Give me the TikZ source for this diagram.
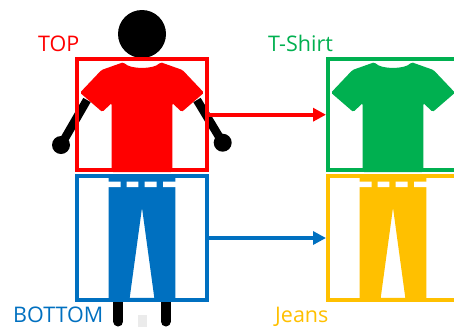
\documentclass[tikz,border=0pt]{standalone}
\usepackage{fontspec}
\setmainfont{Open Sans}
\usetikzlibrary{arrows.meta}
\definecolor{cred}{HTML}{FF0000}
\definecolor{cblue}{HTML}{0070C0}
\definecolor{cgreen}{HTML}{00B050}
\definecolor{cyellow}{HTML}{FFC000}
\tikzset{
  frame/.style={draw, line width=4pt, minimum width=130pt, inner sep=0pt, outer sep=0pt},
  topframe/.style={frame, minimum height=111.5pt},
  botframe/.style={frame, minimum height=124pt},
  limb/.style={draw=black, line width=8.5pt},
  leg/.style={draw=black, line width=10pt, line cap=round},
  link/.style={line width=4pt, -{Triangle[length=13pt,width=13pt]}, shorten >=2pt},
  lab/.style={font=\fontsize{21.5}{26}\selectfont, anchor=base west, inner sep=0pt},
  shirt/.pic={
    \path[pic actions, rounded corners=1.5pt]
      (-18.5,62.2) .. controls (-12,69.5) and (12,69.5) .. (18.5,62.2)
      -- (40.5,70) -- (62,92.7) -- (39.7,112) -- (30.3,103) -- (30.3,172)
      -- (-30.3,172) -- (-30.3,103) -- (-39.7,112) -- (-62,92.7) -- (-40.5,70) -- cycle;
  },
  trousers/.pic={
    \path[pic actions] (-33.3,174) -- (33.3,174) -- (33.3,300) -- (-33.3,300) -- cycle
      (0,207.7) -- (12.3,297.8) -- (-12.3,297.8) -- cycle;
    \fill[white] (-33.8,181.7) rectangle (-21.3,187) (-15.3,181.7) rectangle (-3.7,187)
      (2.7,181.7) rectangle (14.7,187) (21,181.7) rectangle (33.8,187);
  }
}
\begin{document}
\begin{tikzpicture}[x=1pt,y=-1pt]
\clip (0,0) rectangle (454,327);
\fill[white] (0,0) rectangle (454,327);
% faint smudge
\fill[black!8] (138,315) rectangle (147,327);
% figure
\draw[limb] (87,100) -- (61,145);
\draw[limb] (197,100) -- (222.7,142.7);
\fill[black] (61,145) circle (9) (222.7,142.7) circle (9);
\fill[black] (142,34) circle (24);
\draw[leg] (118.3,298) -- (118.3,321.5);
\draw[leg] (165.7,298) -- (165.7,321.5);
% garments
\pic[fill=cred] at (142,0) {shirt};
\pic[fill=cblue, even odd rule] at (142,0) {trousers};
\pic[fill=cgreen] at (393,0) {shirt};
\pic[fill=cyellow, even odd rule] at (393,0) {trousers};
% frames
\node[topframe, draw=cred] (top) at (142,114.7) {};
\node[botframe, draw=cblue] (bottom) at (142,238) {};
\node[topframe, draw=cgreen] (tshirt) at (393,114.7) {};
\node[botframe, draw=cyellow] (jeans) at (393,238) {};
% connectors
\draw[link, cred] (top) -- (tshirt);
\draw[link, cblue] (bottom) -- (jeans);
% labels
\node[lab, text=cred] (ltop) at (38,51) {TOP};
\node[lab, text=cgreen] (ltshirt) at (268,51) {T-Shirt};
\node[lab, text=cblue] (lbottom) at (13,322) {BOTTOM};
\node[lab, text=cyellow] (ljeans) at (275,322) {Jeans};
\end{tikzpicture}
\end{document}
